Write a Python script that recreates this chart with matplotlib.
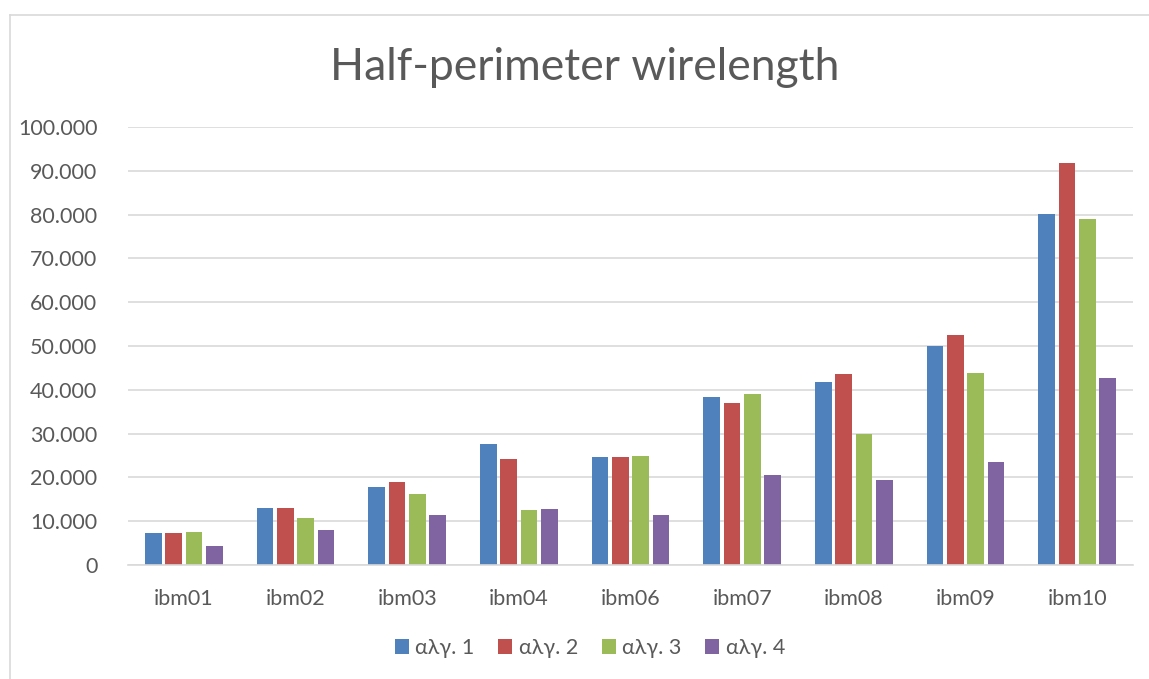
import matplotlib
matplotlib.use("Agg")
import matplotlib.pyplot as plt
from matplotlib.ticker import FuncFormatter
from matplotlib.lines import Line2D
import numpy as np

plt.rcParams['font.family'] = ['Lato', 'Open Sans', 'DejaVu Sans']

# Δεδομένα
benchmarks = ['ibm01', 'ibm02', 'ibm03', 'ibm04', 'ibm06', 'ibm07', 'ibm08', 'ibm09', 'ibm10']
series_names = ['αλγ. 1', 'αλγ. 2', 'αλγ. 3', 'αλγ. 4']
alg1 = [7200, 12900, 17700, 27600, 24600, 38400, 41700, 49900, 80200]
alg2 = [7200, 12900, 18900, 24100, 24700, 37000, 43500, 52600, 91800]
alg3 = [7600, 10700, 16100, 12600, 25000, 39000, 29800, 43900, 79000]
alg4 = [4300, 8100, 11400, 12800, 11400, 20600, 19500, 23600, 42600]
colors = ['#4F81BD', '#C0504D', '#9BBB59', '#8064A2']

W, H = 1149, 679
fig = plt.figure(figsize=(W / 100, H / 100), dpi=100)
ax = fig.add_axes([128 / W, 1 - 565 / H, (1133 - 128) / W, (565 - 127) / H])

x = np.arange(len(benchmarks))
step = 0.182
width = 0.15
for i, (vals, name, c) in enumerate(zip([alg1, alg2, alg3, alg4], series_names, colors)):
    ax.bar(x + (i - 1.5) * step, vals, width, color=c, label=name, zorder=3)

ax.set_xlim(-0.5, len(benchmarks) - 0.5)
ax.set_ylim(0, 100000)
ax.set_yticks(np.arange(0, 100001, 10000))
ax.yaxis.set_major_formatter(FuncFormatter(lambda v, p: f'{v:,.0f}'.replace(',', '.')))
ax.set_xticks(x)
ax.set_xticklabels(benchmarks)

txt = '#595959'
ax.tick_params(axis='both', length=0, labelsize=15.5, labelcolor=txt)
ax.tick_params(axis='y', pad=22)
ax.tick_params(axis='x', pad=17)
ax.grid(axis='y', color='#d9d9d9', linewidth=1.2, zorder=0)
for s in ['top', 'right', 'left']:
    ax.spines[s].set_visible(False)
ax.spines['bottom'].set_color('#d9d9d9')
ax.spines['bottom'].set_linewidth(1.2)
ax.spines['bottom'].set_zorder(4)

fig.text(585 / W, 1 - 68 / H, 'Half-perimeter wirelength', ha='center', va='center',
         fontsize=32, color=txt)

fig.legend(loc='center', bbox_to_anchor=(590 / W, 1 - 648 / H), ncol=4, frameon=False,
           fontsize=15.5, handlelength=0.65, handleheight=0.65, handletextpad=0.3,
           columnspacing=1.1, labelcolor=txt)

# περίγραμμα γραφήματος
fig.add_artist(Line2D([10 / W, 1], [1 - 15 / H, 1 - 15 / H], color='#d9d9d9', linewidth=1.2))
fig.add_artist(Line2D([10 / W, 10 / W], [0, 1 - 15 / H], color='#d9d9d9', linewidth=1.2))

fig.savefig('out.png', dpi=100)
